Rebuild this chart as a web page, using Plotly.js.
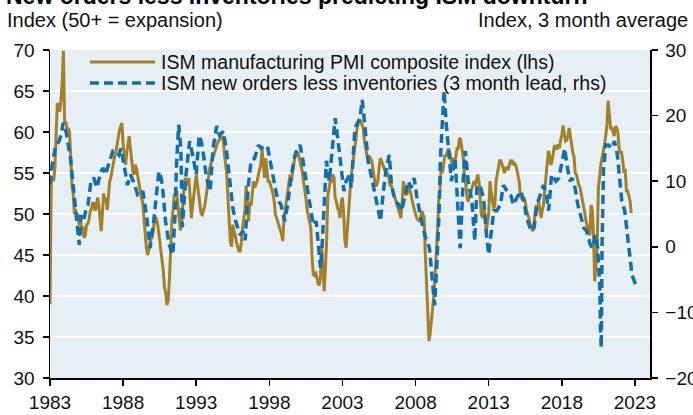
<!DOCTYPE html>
<html>
<head>
<meta charset="utf-8">
<script src="https://cdn.plot.ly/plotly-3.0.1.min.js"></script>
<style>html,body{margin:0;padding:0;background:#fff;}#chart{width:693px;height:415px;}</style>
</head>
<body>
<div id="chart"></div>
<script>
// ---------- DATA ----------
const titleText = "New orders less inventories predicting ISM downturn";
const leftSubtitle = "Index (50+ = expansion)";
const rightSubtitle = "Index, 3 month average";
const seriesNames = ["ISM manufacturing PMI composite index (lhs)", "ISM new orders less inventories (3 month lead, rhs)"];
const xTickYears = [1983, 1988, 1993, 1998, 2003, 2008, 2013, 2018, 2023];
const leftTicks = [30, 35, 40, 45, 50, 55, 60, 65, 70];
const rightTicks = [-20, -10, 0, 10, 20, 30];

// ISM manufacturing PMI, monthly from Jan 1983 to Oct 2022 (lhs)
const pmiStartYear = 1983;
const pmiValues = [
// 1983
39.0,54.0,54.5,54.0,55.5,59.0,63.5,63.3,62.5,63.8,66.0,69.9,
// 1984
61.0,61.3,60.2,60.5,60.0,57.0,53.5,52.5,50.0,50.6,49.8,50.0,
// 1985
48.6,49.9,47.5,48.5,47.1,47.4,48.7,48.8,49.3,50.3,50.6,51.3,
// 1986
51.3,50.4,50.8,52.0,51.2,49.5,47.9,50.0,52.5,51.5,52.0,50.5,
// 1987
53.0,54.0,54.5,55.5,56.5,57.0,57.5,58.4,59.5,60.2,60.7,61.1,
// 1988
58.5,56.8,56.0,57.5,58.5,59.5,58.0,56.3,55.2,54.8,56.0,55.5,
// 1989
54.5,53.5,53.0,52.0,51.5,49.3,47.4,46.0,45.0,45.5,46.4,47.0,
// 1990
47.2,48.5,49.5,49.5,49.0,48.0,46.7,46.0,44.3,43.0,41.0,40.3,
// 1991
38.9,39.5,42.0,45.9,49.1,50.5,52.3,52.5,52.8,51.0,49.0,48.0,
// 1992
48.7,52.0,53.5,54.4,54.0,53.5,54.4,52.0,49.5,51.0,52.8,53.5,
// 1993
54.8,53.5,52.0,50.7,50.0,49.9,50.5,51.0,52.0,53.5,54.5,55.6,
// 1994
56.0,56.8,57.0,57.5,58.0,58.3,58.9,59.0,59.3,59.3,59.5,57.5,
// 1995
56.5,55.0,52.0,49.0,46.7,46.0,48.7,47.9,47.4,46.5,46.0,45.5,
// 1996
45.5,46.5,48.3,49.5,50.5,53.5,50.5,49.1,51.5,51.0,52.5,54.0,
// 1997
53.2,53.5,54.0,54.8,55.5,56.0,58.0,56.0,54.4,56.8,55.5,54.0,
// 1998
54.0,53.5,53.2,52.5,51.5,49.9,49.5,49.0,48.7,48.3,47.5,46.7,
// 1999
49.5,50.5,51.5,52.8,53.5,54.8,54.0,55.0,56.5,57.0,57.2,57.5,
// 2000
57.2,56.5,55.8,55.2,54.0,53.2,52.0,50.5,49.7,49.1,48.3,45.0,
// 2001
42.6,42.5,43.0,42.2,41.5,41.3,42.5,45.9,43.0,40.6,43.5,46.7,
// 2002
52.3,53.0,54.0,54.0,54.8,54.5,52.0,51.5,50.7,50.4,49.5,51.5,
// 2003
52.0,50.0,46.7,45.9,48.0,50.0,53.2,54.5,55.5,57.0,58.0,59.0,
// 2004
60.5,61.0,61.5,61.3,60.8,60.5,59.0,58.0,57.2,57.0,57.0,56.8,
// 2005
56.5,55.5,54.4,53.5,53.5,54.0,55.5,56.8,56.5,56.0,55.6,55.0,
// 2006
54.8,55.0,54.5,53.5,53.5,53.0,52.5,52.0,51.5,51.0,50.4,50.0,
// 2007
49.5,51.5,54.0,53.0,52.3,52.5,53.0,53.2,52.5,51.5,51.1,50.5,
// 2008
49.9,49.5,49.3,49.1,49.5,50.4,50.0,49.5,45.0,41.0,38.2,34.5,
// 2009
35.5,37.0,38.5,40.1,42.5,45.0,48.0,51.6,53.0,55.6,55.0,56.0,
// 2010
57.2,57.0,57.7,58.0,57.5,56.5,56.0,56.8,56.5,57.0,58.0,58.0,
// 2011
59.3,59.0,58.0,57.0,54.8,54.0,52.3,51.5,52.0,52.5,53.2,53.5,
// 2012
54.0,53.5,54.0,54.8,54.0,52.0,49.9,49.5,50.5,50.0,47.9,49.0,
// 2013
49.9,54.0,52.5,51.6,50.7,51.0,54.0,55.0,55.5,56.5,56.5,56.0,
// 2014
55.6,55.0,55.6,55.6,55.5,56.0,56.5,56.5,56.0,56.2,56.0,55.5,
// 2015
54.8,54.0,52.3,52.0,51.6,52.0,51.5,50.4,50.0,49.5,48.7,48.5,
// 2016
47.9,48.5,50.0,51.1,50.5,51.5,50.5,49.5,50.5,51.1,53.0,54.8,
// 2017
55.5,57.7,57.0,56.0,56.5,57.5,58.4,58.0,58.0,58.5,58.0,59.0,
// 2018
59.6,60.8,59.5,58.9,59.0,59.5,60.5,59.5,58.0,57.5,57.0,55.0,
// 2019
54.8,54.0,53.5,53.2,52.5,51.5,50.7,50.0,49.0,48.3,48.0,47.4,
// 2020
51.1,50.5,47.4,41.8,43.5,45.9,53.2,55.0,56.0,56.8,57.5,58.4,
// 2021
59.5,60.8,63.8,61.5,60.5,60.5,60.1,59.5,60.7,60.5,60.0,58.0,
// 2022
57.5,57.5,56.5,55.0,55.5,52.8,52.8,52.0,51.6,50.1
];

// ISM new orders less inventories, 3m avg, shifted 3 months ahead (rhs)
const blueYears = [
1983.0,1983.15,1983.4,1983.6,1983.75,1983.9,1984.1,1984.25,1984.4,1984.6,1984.8,1984.9,
1985.0,1985.1,1985.3,1985.45,1985.6,1985.8,1986.0,1986.2,1986.35,1986.5,1986.65,1986.8,
1987.0,1987.15,1987.3,1987.5,1987.7,1987.85,1988.0,1988.1,1988.3,1988.5,1988.7,1988.85,
1989.0,1989.2,1989.35,1989.6,1989.75,1989.85,1989.95,1990.05,1990.25,1990.45,1990.6,1990.7,
1990.9,1991.15,1991.4,1991.55,1991.65,1991.8,1991.95,1992.05,1992.3,1992.55,1992.8,1993.0,
1993.2,1993.35,1993.5,1993.7,1993.95,1994.15,1994.4,1994.6,1994.85,1995.05,1995.3,1995.5,
1995.7,1996.0,1996.2,1996.35,1996.55,1996.75,1997.0,1997.25,1997.45,1997.7,1997.9,1998.1,
1998.4,1998.6,1998.8,1999.05,1999.25,1999.45,1999.7,1999.9,2000.1,2000.3,2000.5,2000.8,
2001.0,2001.2,2001.35,2001.5,2001.6,2001.8,2001.9,2002.1,2002.35,2002.5,2002.7,2002.9,
2003.1,2003.25,2003.5,2003.6,2003.85,2004.2,2004.35,2004.55,2004.75,2005.0,2005.2,2005.4,
2005.6,2005.8,2006.0,2006.2,2006.35,2006.6,2006.85,2007.05,2007.3,2007.5,2007.7,2007.9,
2008.1,2008.3,2008.5,2008.7,2008.95,2009.15,2009.3,2009.45,2009.6,2009.7,2009.85,2009.95,
2010.1,2010.25,2010.45,2010.7,2010.9,2011.05,2011.25,2011.4,2011.6,2011.85,2012.05,2012.2,
2012.45,2012.65,2012.85,2013.0,2013.15,2013.35,2013.55,2013.8,2014.0,2014.25,2014.5,2014.7,
2014.9,2015.2,2015.4,2015.6,2015.9,2016.1,2016.3,2016.55,2016.75,2016.95,2017.1,2017.3,
2017.6,2017.8,2018.0,2018.2,2018.35,2018.55,2018.7,2018.9,2019.1,2019.3,2019.5,2019.7,
2019.95,2020.1,2020.3,2020.45,2020.6,2020.65,2020.7,2020.75,2020.85,2021.0,2021.2,2021.4,
2021.6,2021.8,2021.95,2022.1,2022.3,2022.45,2022.65,2022.8,2022.95,2023.05
];
const blueValues = [
9.5,12.5,15.5,16.0,17.0,18.9,17.5,15.5,13.5,9.0,4.8,1.8,
0.3,4.8,4.0,5.5,6.4,10.0,10.5,9.0,10.5,11.6,12.0,11.0,
12.5,13.5,14.6,14.5,14.0,15.0,13.5,12.0,9.4,11.0,10.0,9.0,
7.9,8.0,8.5,4.8,1.5,-0.2,2.0,2.9,7.4,11.5,10.5,9.0,
3.9,0.3,-1.2,4.8,12.5,18.6,15.0,3.0,11.0,16.1,13.5,11.0,
17.0,16.0,14.0,10.5,8.5,15.0,18.4,17.0,17.6,15.0,10.0,5.9,
3.9,1.8,2.4,1.0,9.0,13.1,13.5,15.5,15.0,15.5,15.0,12.5,
9.0,7.0,6.4,3.9,6.4,10.0,13.5,15.0,15.5,13.1,10.5,6.4,
3.3,3.9,0.3,-3.2,-0.2,7.4,13.1,10.0,16.1,19.6,16.1,12.0,
8.5,10.0,11.0,9.0,18.1,19.6,22.4,18.1,13.1,10.5,8.5,6.4,
3.9,8.5,12.0,14.0,9.4,7.0,6.4,5.5,7.9,10.0,9.0,10.5,
7.4,4.8,2.9,1.3,-0.2,-5.2,-8.9,-2.8,4.8,13.5,18.6,23.8,
18.6,15.0,10.0,13.5,4.8,-0.2,10.0,14.6,10.0,7.0,0.9,9.4,
9.0,7.4,1.8,-1.2,1.8,5.5,5.5,6.4,9.4,8.5,7.9,6.4,
7.4,8.5,7.0,4.4,2.4,2.9,6.4,7.9,9.4,7.9,5.5,11.0,
10.0,10.5,13.1,15.0,12.5,10.0,10.5,9.0,6.4,4.4,2.9,2.4,
0.3,-0.2,1.8,-0.2,-6.3,-12.8,-15.4,0.0,11.6,15.5,15.5,15.0,
16.1,14.0,10.0,7.0,5.5,2.4,-1.2,-4.3,-5.2,-5.8
];

// ---------- CHART ----------
const pmiYears = pmiValues.map((v, i) => pmiStartYear + i / 12);
const GOLD = '#a3802a';
const BLUE = '#146eaa';
const FONT = 'Liberation Sans, Arial, sans-serif';
const W = 693, H = 415, ML = 50, MR = 43, MT = 50, MB = 37;
const PW = W - ML - MR, PH = H - MT - MB;
const px = x => (x - ML) / PW;
const py = y => (H - MB - y) / PH;

const traces = [
  { x: pmiYears, y: pmiValues, type: 'scatter', mode: 'lines', name: seriesNames[0],
    line: { color: GOLD, width: 3 }, yaxis: 'y', hoverinfo: 'skip' },
  { x: blueYears, y: blueValues, type: 'scatter', mode: 'lines', name: seriesNames[1],
    line: { color: BLUE, width: 3.5, dash: '9px,5px' }, yaxis: 'y2', hoverinfo: 'skip' }
];

const tickFont = { family: FONT, size: 19, color: '#111' };

const layout = {
  width: W, height: H,
  margin: { l: ML, r: MR, t: MT, b: MB, pad: 0 },
  paper_bgcolor: '#ffffff',
  plot_bgcolor: '#e6eff3',
  showlegend: false,
  font: { family: FONT, color: '#111' },
  xaxis: {
    range: [1983, 2024.03], tickmode: 'array', tickvals: xTickYears, ticktext: xTickYears.map(String),
    showgrid: false, zeroline: false, showline: true, linecolor: '#000', linewidth: 1.5,
    ticks: 'outside', ticklen: 6, tickwidth: 1.5, tickcolor: '#000', tickfont: tickFont,
    ticklabelstandoff: 1
  },
  yaxis: {
    range: [30, 70], tickmode: 'array', tickvals: leftTicks,
    showgrid: true, gridcolor: '#ffffff', gridwidth: 2, zeroline: false,
    showline: true, linecolor: '#000', linewidth: 1.5,
    ticks: 'outside', ticklen: 6, tickwidth: 1.5, tickcolor: '#000', tickfont: tickFont,
    ticklabelstandoff: 4
  },
  yaxis2: {
    range: [-20, 30], overlaying: 'y', side: 'right', tickmode: 'array', tickvals: rightTicks,
    showgrid: false, zeroline: false, showline: true, linecolor: '#000', linewidth: 1.5,
    ticks: 'outside', ticklen: 6, tickwidth: 1.5, tickcolor: '#000', tickfont: tickFont,
    ticklabelstandoff: 4
  },
  shapes: [
    { type: 'line', xref: 'paper', yref: 'paper', x0: px(90), x1: px(155), y0: py(62), y1: py(62),
      line: { color: GOLD, width: 3 } },
    { type: 'line', xref: 'paper', yref: 'paper', x0: px(90), x1: px(157), y0: py(83), y1: py(83),
      line: { color: BLUE, width: 3.5, dash: '9px,5px' } }
  ],
  annotations: [
    { text: '<b>' + titleText + '</b>', xref: 'paper', yref: 'paper', x: px(4), y: py(11),
      xanchor: 'left', yanchor: 'bottom', showarrow: false, font: { family: FONT, size: 23, color: '#000' } },
    { text: leftSubtitle, xref: 'paper', yref: 'paper', x: px(5), y: py(20),
      xanchor: 'left', yanchor: 'middle', showarrow: false, font: { family: FONT, size: 20, color: '#111' } },
    { text: rightSubtitle, xref: 'paper', yref: 'paper', x: px(690), y: py(20),
      xanchor: 'right', yanchor: 'middle', showarrow: false, font: { family: FONT, size: 20, color: '#111' } },
    { text: seriesNames[0], xref: 'paper', yref: 'paper', x: px(159), y: py(62),
      xanchor: 'left', yanchor: 'middle', showarrow: false, font: { family: FONT, size: 19.5, color: '#111' } },
    { text: seriesNames[1], xref: 'paper', yref: 'paper', x: px(159), y: py(83),
      xanchor: 'left', yanchor: 'middle', showarrow: false, font: { family: FONT, size: 19.5, color: '#111' } }
  ]
};

Plotly.newPlot('chart', traces, layout, { displayModeBar: false, staticPlot: true });
</script>
</body>
</html>
